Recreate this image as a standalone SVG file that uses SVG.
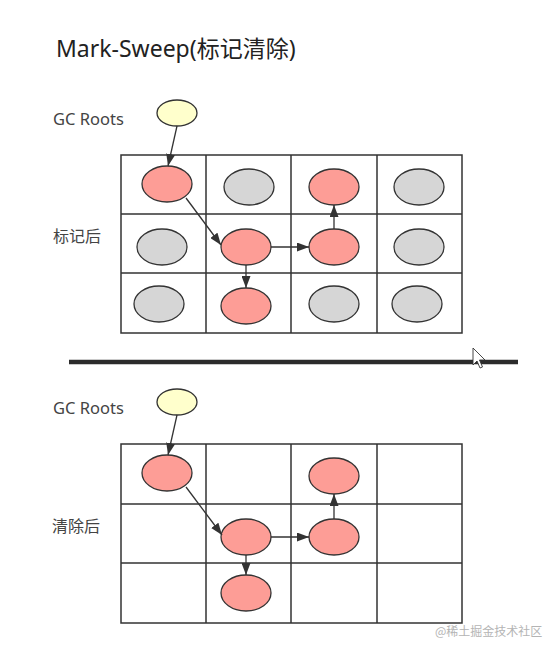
<svg xmlns="http://www.w3.org/2000/svg" width="556" height="653" viewBox="0 0 556 653">
<style>
.t{font-family:"Noto Sans","Noto Sans CJK SC",sans-serif;fill:#444}
.grid{fill:none;stroke:#333;stroke-width:1.5}
.r{fill:#fd9d96;stroke:#333;stroke-width:1.3}
.g{fill:#d6d6d6;stroke:#333;stroke-width:1.3}
.y{fill:#ffffcc;stroke:#333;stroke-width:1.3}
.e{stroke:#333;stroke-width:1.3;fill:none;marker-end:url(#ah)}
</style>
<defs>
<marker id="ah" markerUnits="userSpaceOnUse" markerWidth="12" markerHeight="9" refX="12" refY="4.5" orient="auto">
<path d="M0,0 L12,4.5 L0,9 z" fill="#333"/>
</marker>
</defs>
<rect width="556" height="653" fill="#fff"/>
<text class="t" x="56" y="57" font-size="23" style="fill:#222">Mark-Sweep(标记清除)</text>

<g id="top-labels">
<text class="t" x="53" y="125" font-size="16.5">GC Roots</text>
<text class="t" x="53" y="242" font-size="16">标记后</text>
</g>
<g id="top-grid">
<rect class="grid" x="121" y="155" width="341" height="178"/>
<path class="grid" d="M206,155V333M291,155V333M377,155V333M121,214H462M121,273H462"/>
</g>
<g id="top-nodes">
<g id="t-root"><ellipse class="y" cx="177" cy="113" rx="20" ry="13"/></g>
<g id="t-a"><ellipse class="r" cx="167" cy="184" rx="25" ry="18"/></g>
<g id="t-b"><ellipse class="g" cx="249" cy="187" rx="25" ry="18"/></g>
<g id="t-c"><ellipse class="r" cx="334" cy="187" rx="25" ry="18"/></g>
<g id="t-d"><ellipse class="g" cx="419" cy="187" rx="25" ry="18"/></g>
<g id="t-e"><ellipse class="g" cx="162" cy="247" rx="25" ry="18"/></g>
<g id="t-f"><ellipse class="r" cx="246" cy="247" rx="25" ry="18"/></g>
<g id="t-g"><ellipse class="r" cx="334" cy="247" rx="25" ry="18"/></g>
<g id="t-h"><ellipse class="g" cx="419" cy="247" rx="25" ry="18"/></g>
<g id="t-i"><ellipse class="g" cx="159" cy="304" rx="25" ry="18"/></g>
<g id="t-j"><ellipse class="r" cx="246" cy="306" rx="25" ry="18"/></g>
<g id="t-k"><ellipse class="g" cx="334" cy="304" rx="25" ry="18"/></g>
<g id="t-l"><ellipse class="g" cx="417" cy="304" rx="25" ry="18"/></g>
</g>
<g id="top-connectors">
<line class="e" x1="177" y1="126" x2="168" y2="166"/>
<line class="e" x1="186" y1="198" x2="221" y2="245"/>
<line class="e" x1="271" y1="247" x2="309" y2="247"/>
<line class="e" x1="246" y1="265" x2="246" y2="288"/>
<line class="e" x1="334" y1="229" x2="334" y2="205"/>
</g>

<g id="divider">
<line x1="69" y1="362" x2="518" y2="362" stroke="#2b2b2b" stroke-width="4.5"/>
<path d="M473,348 L473,365 L477,361 L480,368 L482.5,367 L479.5,360 L485,360 Z" fill="#fff" stroke="#333" stroke-width="0.9"/>
</g>

<g id="bottom-labels">
<text class="t" x="53" y="414" font-size="16.5">GC Roots</text>
<text class="t" x="52" y="532" font-size="16">清除后</text>
</g>
<g id="bottom-grid">
<rect class="grid" x="121" y="444" width="341" height="179"/>
<path class="grid" d="M206,444V623M291,444V623M377,444V623M121,504H462M121,563H462"/>
</g>
<g id="bottom-nodes">
<g id="b-root"><ellipse class="y" cx="177" cy="402" rx="20" ry="13"/></g>
<g id="b-a"><ellipse class="r" cx="167" cy="473" rx="25" ry="18"/></g>
<g id="b-c"><ellipse class="r" cx="334" cy="476" rx="25" ry="18"/></g>
<g id="b-f"><ellipse class="r" cx="246" cy="537" rx="25" ry="18"/></g>
<g id="b-g"><ellipse class="r" cx="334" cy="537" rx="25" ry="18"/></g>
<g id="b-j"><ellipse class="r" cx="246" cy="593" rx="25" ry="18"/></g>
</g>
<g id="bottom-connectors">
<line class="e" x1="177" y1="415" x2="168" y2="455"/>
<line class="e" x1="186" y1="487" x2="222" y2="535"/>
<line class="e" x1="271" y1="537" x2="309" y2="537"/>
<line class="e" x1="246" y1="555" x2="246" y2="575"/>
<line class="e" x1="334" y1="519" x2="334" y2="494"/>
</g>

<text x="435" y="636" font-size="12" font-family="Noto Sans CJK SC, sans-serif" fill="#b4b4b4">@稀土掘金技术社区</text>
</svg>
